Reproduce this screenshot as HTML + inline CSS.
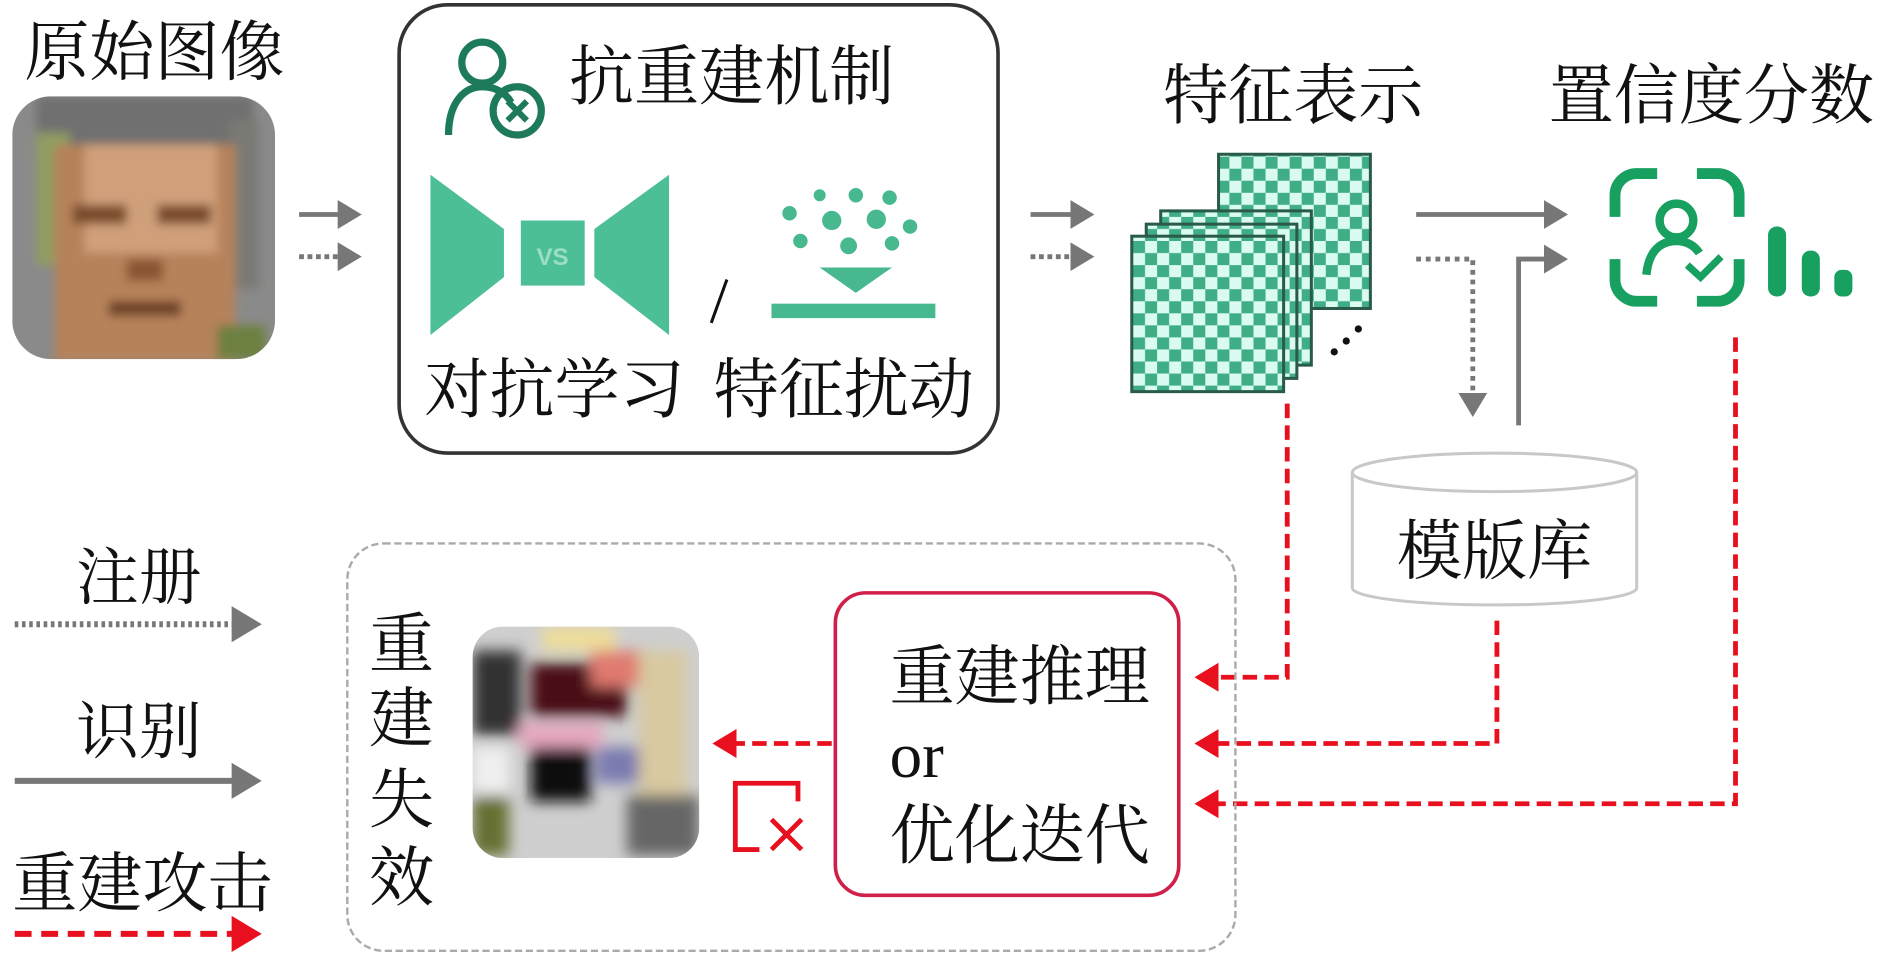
<!DOCTYPE html>
<html><head><meta charset="utf-8"><style>html,body{margin:0;padding:0;background:#fff}svg{display:block}</style></head>
<body>
<svg width="1890" height="958" viewBox="0 0 1568 795" xmlns="http://www.w3.org/2000/svg" font-family="'Liberation Serif','Noto Serif CJK SC',serif">
<defs>
<pattern id="chk" width="20" height="20" patternUnits="userSpaceOnUse">
<rect width="20" height="20" fill="#d9fbf2"/><rect width="10" height="10" fill="#3fae86"/><rect x="10" y="10" width="10" height="10" fill="#3fae86"/>
</pattern>
<filter id="bl"><feGaussianBlur stdDeviation="4"/></filter>
<filter id="bl2"><feGaussianBlur stdDeviation="6"/></filter>
<clipPath id="c1"><rect x="10" y="80" width="218" height="218" rx="32"/></clipPath>
<clipPath id="c2"><rect x="392" y="520" width="188" height="192" rx="25"/></clipPath>
<marker id="ag" markerWidth="6" markerHeight="6" refX="4" refY="3" orient="auto" markerUnits="strokeWidth"><path d="M0,0 L5,3 L0,6z" fill="#777"/></marker>
<marker id="ar" markerWidth="6" markerHeight="6" refX="4" refY="3" orient="auto" markerUnits="strokeWidth"><path d="M0,0 L5,3 L0,6z" fill="#e8101e"/></marker>
</defs>

<g font-size="54" fill="#111">
<text x="20" y="62">原始图像</text>
<text x="472" y="82">抗重建机制</text>
<text x="352" y="342">对抗学习</text>
<text x="592" y="342">特征扰动</text>
<text x="965" y="98">特征表示</text>
<text x="1285" y="98">置信度分数</text>
<text x="63" y="497" font-size="52">注册</text>
<text x="63" y="625" font-size="52">识别</text>
<text x="10" y="752">重建攻击</text>
<text x="738" y="580">重建推理</text>
<text x="738" y="645">or</text>
<text x="738" y="712">优化迭代</text>
<text x="306" y="553">重</text>
<text x="306" y="615">建</text>
<text x="306" y="682">失</text>
<text x="306" y="747">效</text>
</g>

<!-- face image -->
<g clip-path="url(#c1)">
<rect x="10" y="80" width="218" height="218" fill="#8a8a8a"/>
<g filter="url(#bl)">
<rect x="30" y="80" width="180" height="50" fill="#707070"/>
<rect x="30" y="110" width="28" height="110" fill="#8f9d62"/>
<rect x="190" y="100" width="25" height="140" fill="#7a7a74"/>
<rect x="45" y="120" width="150" height="180" fill="#b6825a"/>
<rect x="70" y="120" width="110" height="90" fill="#d0a07a"/>
<rect x="60" y="170" width="45" height="16" fill="#7a4c2a"/>
<rect x="130" y="170" width="45" height="16" fill="#7a4c2a"/>
<rect x="105" y="215" width="30" height="18" fill="#8a5530"/>
<rect x="90" y="250" width="60" height="12" fill="#6b3c22"/>
<rect x="180" y="270" width="40" height="28" fill="#6d8040"/>
</g>
</g>

<line x1="248" y1="178" x2="296" y2="178" stroke="#777" stroke-width="4" marker-end="url(#ag)"/>
<line x1="248" y1="213" x2="296" y2="213" stroke="#777" stroke-width="4" stroke-dasharray="4,3" marker-end="url(#ag)"/>

<rect x="331" y="4" width="497" height="372" rx="40" fill="none" stroke="#333" stroke-width="3"/>
<g fill="none" stroke="#1d7a5a" stroke-width="6">
<circle cx="400" cy="52" r="17"/>
<path d="M372,112 C372,85 385,72 400,72 C412,72 420,78 424,85"/>
<circle cx="429" cy="92" r="20"/>
<path d="M421,84 L437,100 M437,84 L421,100" stroke-width="5"/>
</g>
<g fill="#4cbf96">
<polygon points="357,145 418,190 418,230 357,278"/>
<rect x="432" y="183" width="53" height="54"/>
<polygon points="555,145 493,190 493,230 555,278"/>
</g>
<text x="445" y="220" font-family="'Liberation Sans',sans-serif" font-size="20" font-weight="bold" fill="#9adfc4">VS</text>
<line x1="603" y1="232" x2="590" y2="268" stroke="#111" stroke-width="2.5"/>
<g fill="#48b98f">
<circle cx="680" cy="162" r="5"/><circle cx="710" cy="162" r="6"/><circle cx="738" cy="164" r="6"/>
<circle cx="655" cy="177" r="6"/><circle cx="690" cy="183" r="8"/><circle cx="727" cy="182" r="8"/><circle cx="755" cy="188" r="6"/>
<circle cx="664" cy="200" r="6"/><circle cx="704" cy="204" r="7"/><circle cx="740" cy="202" r="6"/>
<polygon points="680,222 740,222 710,243"/>
<rect x="640" y="252" width="136" height="12"/>
</g>

<line x1="855" y1="178" x2="904" y2="178" stroke="#777" stroke-width="4" marker-end="url(#ag)"/>
<line x1="855" y1="213" x2="904" y2="213" stroke="#777" stroke-width="4" stroke-dasharray="4,3" marker-end="url(#ag)"/>

<g stroke="#2a5a48" stroke-width="2.5" fill="url(#chk)">
<rect x="1011" y="128" width="126" height="128"/>
<rect x="963" y="175" width="125" height="128"/>
<rect x="951" y="186" width="125" height="128"/>
<rect x="939" y="196" width="126" height="129"/>
</g>
<g fill="#111"><circle cx="1107" cy="292" r="3"/><circle cx="1117" cy="283" r="3"/><circle cx="1127" cy="273" r="3"/></g>

<line x1="1175" y1="178" x2="1297" y2="178" stroke="#777" stroke-width="4" marker-end="url(#ag)"/>
<polyline points="1175,215 1222,215 1222,342" fill="none" stroke="#777" stroke-width="4" stroke-dasharray="4,4" marker-end="url(#ag)"/>
<polyline points="1260,353 1260,215 1297,215" fill="none" stroke="#777" stroke-width="4" marker-end="url(#ag)"/>

<g fill="none" stroke="#17a060" stroke-width="9" stroke-linecap="butt">
<path d="M1340,180 V162 A18,18 0 0 1 1358,144 H1375"/>
<path d="M1408,144 H1425 A18,18 0 0 1 1443,162 V180"/>
<path d="M1340,215 V232 A18,18 0 0 0 1358,250 H1375"/>
<path d="M1408,250 H1425 A18,18 0 0 0 1443,232 V215"/>
<circle cx="1391" cy="183" r="14" stroke-width="7"/>
<path d="M1366,228 C1368,208 1378,200 1391,200 C1400,200 1406,204 1410,210" stroke-width="7"/>
<path d="M1400,220 L1411,230 L1428,213" stroke-width="6"/>
</g>
<g fill="#17a060">
<rect x="1467" y="188" width="15" height="58" rx="7"/>
<rect x="1495" y="208" width="15" height="38" rx="7"/>
<rect x="1522" y="224" width="15" height="22" rx="6"/>
</g>

<g fill="#fff" stroke="#c8c8c8" stroke-width="2.5">
<path d="M1122,392 V488 A118,14 0 0 0 1358,488 V392"/>
<ellipse cx="1240" cy="392" rx="118" ry="16"/>
</g>
<text x="1159" y="476" font-size="54" fill="#111">模版库</text>

<g fill="none" stroke="#e8101e" stroke-width="4" stroke-dasharray="12,6">
<polyline points="1068,335 1068,562 995,562" marker-end="url(#ar)"/>
<polyline points="1242,515 1242,617 995,617" marker-end="url(#ar)"/>
<polyline points="1440,280 1440,667 995,667" marker-end="url(#ar)"/>
<line x1="690" y1="617" x2="595" y2="617" marker-end="url(#ar)"/>
</g>

<rect x="288" y="451" width="737" height="338" rx="30" fill="none" stroke="#aaa" stroke-width="2" stroke-dasharray="6,3"/>
<rect x="693" y="492" width="285" height="251" rx="25" fill="none" stroke="#d0204a" stroke-width="3"/>

<g clip-path="url(#c2)">
<rect x="392" y="520" width="188" height="192" fill="#cfcfcf"/>
<g filter="url(#bl2)">
<rect x="392" y="540" width="40" height="70" fill="#333"/>
<rect x="440" y="550" width="80" height="45" fill="#4a1018"/>
<rect x="490" y="540" width="40" height="30" fill="#e07a70"/>
<rect x="530" y="540" width="40" height="120" fill="#d8c9a0"/>
<rect x="430" y="600" width="70" height="20" fill="#e6a8c0"/>
<rect x="440" y="620" width="50" height="45" fill="#111"/>
<rect x="495" y="620" width="35" height="30" fill="#7a7ab0"/>
<rect x="392" y="620" width="30" height="40" fill="#f0f0f0"/>
<rect x="392" y="660" width="30" height="50" fill="#667030"/>
<rect x="520" y="660" width="60" height="50" fill="#666"/>
<rect x="450" y="520" width="60" height="20" fill="#eedd99"/>
</g>
</g>
<path d="M662,665 V650 H610 V705 H630" fill="none" stroke="#e8101e" stroke-width="4"/>
<path d="M640,680 L665,705 M665,680 L640,705" stroke="#e8101e" stroke-width="4"/>

<line x1="12" y1="518" x2="212" y2="518" stroke="#777" stroke-width="5" stroke-dasharray="3,3" marker-end="url(#ag)"/>
<line x1="12" y1="648" x2="212" y2="648" stroke="#777" stroke-width="5" marker-end="url(#ag)"/>
<line x1="12" y1="775" x2="212" y2="775" stroke="#e8101e" stroke-width="5" stroke-dasharray="14,8" marker-end="url(#ar)"/>
</svg>
</body></html>
